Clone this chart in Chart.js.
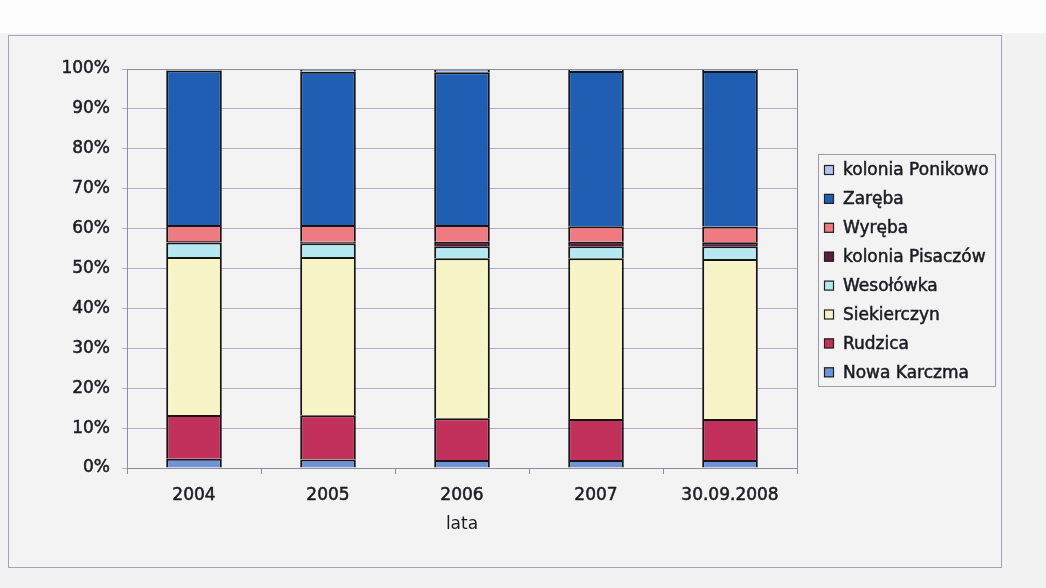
<!DOCTYPE html>
<html><head><meta charset="utf-8">
<script src="https://cdn.jsdelivr.net/npm/chart.js@4"></script>
<style>
html,body{margin:0;padding:0;background:#f2f2f2;}
#top{position:absolute;left:0;top:0;width:1046px;height:33px;background:#fdfdfd;}
#frame{position:absolute;left:8px;top:35px;width:992px;height:531px;border:1px solid #a8a0b8;background:#f3f3f3;}
canvas{display:block;}
</style></head><body>
<div id="top"></div>
<div id="frame"><canvas id="c" width="992" height="531"></canvas></div>
<script>
const categories = ["2004","2005","2006","2007","30.09.2008"];
const nowaKarczma = [2.3, 2.1, 2.0, 2.0, 2.0];
const rudzica = [11.0, 11.1, 10.5, 10.3, 10.3];
const siekierczyn = [39.6, 39.7, 40.1, 40.3, 40.1];
const wesolowka = [3.6, 3.4, 3.0, 3.0, 3.2];
const koloniaPisaczow = [0.4, 0.4, 1.1, 1.1, 1.0];
const wyreba = [4.0, 4.2, 4.2, 3.9, 3.9];
const zareba = [38.7, 38.4, 38.3, 38.9, 39.0];
const koloniaPonikowo = [0.4, 0.7, 0.8, 0.5, 0.5];
const yTicks = [0,10,20,30,40,50,60,70,80,90,100];

const series = [
  ["Nowa Karczma", nowaKarczma, "#6f93d6"],
  ["Rudzica", rudzica, "#c2305c"],
  ["Siekierczyn", siekierczyn, "#f7f5c8"],
  ["Wesołówka", wesolowka, "#b6e8f2"],
  ["kolonia Pisaczów", koloniaPisaczow, "#5c1a40"],
  ["Wyręba", wyreba, "#f07a82"],
  ["Zaręba", zareba, "#1f5eb3"],
  ["kolonia Ponikowo", koloniaPonikowo, "#b4c4ee"]
];
const FONT = "DejaVu Sans";
const TXT = '#1a1a22';

const frameBox = {
  id:'frameBox',
  afterDraw(chart){
    const {ctx, chartArea:a} = chart;
    ctx.save();
    ctx.strokeStyle = '#8c8c9c'; ctx.lineWidth = 1;
    ctx.strokeRect(a.left+0.5, a.top+0.5, a.right-a.left, a.bottom-a.top);
    // legend
    const lx = 809, ly = 118, lw = 177, lh = 232;
    ctx.strokeStyle = '#9a9aa8';
    ctx.strokeRect(lx+0.5, ly+0.5, lw, lh);
    ctx.font = '17px "'+FONT+'"';
    ctx.textBaseline = 'middle';
    const items = chart.data.datasets.slice().reverse();
    items.forEach((d,i)=>{
      const y = ly + 16 + i*28.9;
      ctx.fillStyle = d.backgroundColor;
      ctx.fillRect(lx+6, y-5, 10, 10);
      ctx.strokeStyle = '#222'; ctx.lineWidth = 1.2;
      ctx.strokeRect(lx+6.5, y-4.5, 9, 9);
      ctx.fillStyle = TXT; ctx.strokeStyle = TXT; ctx.lineWidth = 0.5;
      ctx.fillText(d.label, lx+25, y+1);
      ctx.strokeText(d.label, lx+25, y+1);
    });
    ctx.restore();
  }
};

new Chart(document.getElementById('c'), {
  type:'bar',
  data:{
    labels: categories,
    datasets: series.map(s=>({label:s[0], data:s[1], backgroundColor:s[2], borderColor:'#151515', borderWidth:2, barPercentage:0.415, categoryPercentage:1.0}))
  },
  options:{
    responsive:false, animation:false,
    layout:{padding:{left:38, right:204, top:33, bottom:28}},
    plugins:{legend:{display:false}, tooltip:{enabled:false}},
    scales:{
      x:{stacked:true,
        afterFit(s){ s.height = 71; },
        grid:{display:true, offset:true, drawOnChartArea:false, tickLength:6, color:'#8c8c9c'},
        border:{color:'#8c8c9c'},
        ticks:{color:TXT, font:{family:FONT, size:17}, padding:11, textStrokeColor:TXT, textStrokeWidth:0.5},
        title:{display:true, text:'lata', color:TXT, font:{family:FONT, size:17}, padding:{top:9}}
      },
      y:{stacked:true, min:0, max:100,
        afterFit(s){ s.width = 80; },
        afterBuildTicks(s){ s.ticks = yTicks.map(v=>({value:v})); },
        grid:{color:'#b9a8c8', tickLength:5},
        border:{color:'#8c8c9c'},
        ticks:{color:TXT, font:{family:FONT, size:17}, padding:12, textStrokeColor:TXT, textStrokeWidth:0.5, callback:v=>v+'%'}
      }
    }
  },
  plugins:[frameBox]
});
</script>
</body></html>
